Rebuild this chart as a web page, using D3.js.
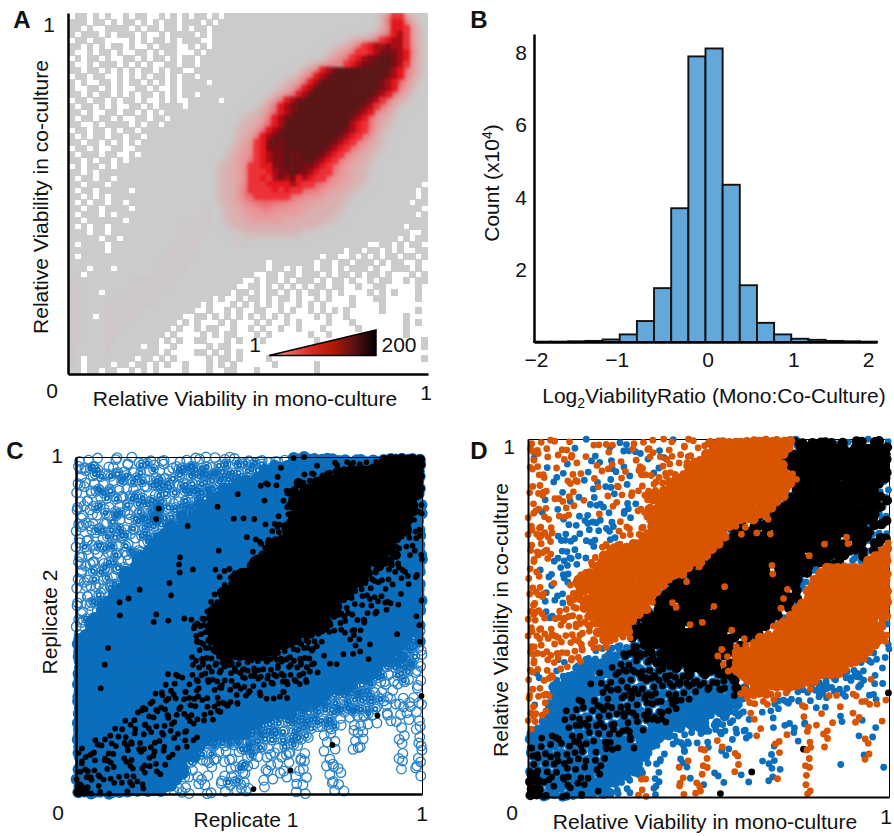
<!DOCTYPE html>
<html>
<head>
<meta charset="utf-8">
<script src="https://cdnjs.cloudflare.com/ajax/libs/d3/7.8.5/d3.min.js"></script>
<style>
  body { margin: 0; background: #fff; }
  svg { display: block; }
  text { font-family: "Liberation Sans", Arial, sans-serif; fill: #111; }
  .domain { fill: none; stroke: #000; }
</style>
</head>
<body>
<div id="chart"></div>
<script>
// panel A: density grid, top row is y=1. white ".", gray 0, faint a, then 1-8 up the colour bar
var heatRows = [
"  .00.0.0..0 .00..0.0.0 .00.0.0000 0000000000 0000000000 0013442100",
"  000.00.0.0 0.0.0.00.0 00.0.00000 0000000000 0000000000 0013553100",
"  00.0..0000 .0.00.00.0 .00.000000 0000000000 0000000000 0012554210",
"  0.000.0.00 0.0..0.000 0.0.000000 0000000000 0000000000 0123564210",
"  .00.00.... 0.0.00.0.0 00..000000 0000000000 0000000111 2345664210",
"  00.0.0.00. 0..0.000.. 0.0.000000 0000000000 0000011234 5667664210",
"  0..0.00.0. .00.0.00.. .0.0000000 0000000000 0000122344 5677765310",
"  .0.00.0..0 0.0.00.0.0 0.00000000 0000000000 0001223456 7788765210",
"  0..0.000.0 .0.0..00.0 0.00000000 0000000000 0112334567 7888764210",
"  00.00.0.0. 0.00.0.00. .000000000 0000000001 2356788888 8888653210",
"  .00.00..0. 0.0.00.0.0 0.00000000 0000000012 3567888888 8887653210",
"  0.0..00.0. 00.0.0.0.0 000.000000 0000001123 5688888888 8876532100",
"  0..00.0.0. .00.0..0.0 0000000000 0000011235 6888888888 8876532100",
"  00.0.00.0. 0.00.0.0.0 0.00000000 0000112356 8888888888 8765321000",
"  .00.00.0.0 0.0..0.0.. 00000.0000 0001235678 8888888888 7643211000",
"  0.00.0.0.. 00.0.0000. 0000000000 0012356788 8888888887 6432100000",
"  00.0..00.0 0.0.0.0000 0000000000 0112356788 8888888876 5322100000",
"  0.00.00.0. .00.00.000 0000000001 1123567888 8888888765 3211000000",
"  00..0.0000 .0.00.0000 0000000001 1123568888 8888888654 3211000000",
"  .00.00.0.0 0.00000000 0000000011 1235678888 8888887654 3210000000",
"  0.0.00.00. 00.0000000 0000000011 1356788888 8888876543 2100000000",
"  00.00.0.0. 0.00000000 0000000012 2457878888 8888765432 2110000000",
"  .00.0..00. .000000000 0000000112 2457778888 8887654322 1100000000",
"  0.000.00.. 0.00000000 0000000122 2456778788 8876543221 1000000000",
"  00.0.00.0. 0000000000 0000001122 3456778878 8765432211 1000000000",
"  .0.00.0.00 0000000000 0000011122 4455778787 7654322111 0000000000",
"  00.0.00000 0000000000 0000011122 4445677877 6544322111 0000000000",
"  0.00.00.00 0000000000 0000011122 4454676756 5443222111 0000000000",
"  00.000.000 0000000000 0000011122 4445555654 4332221110 000000000.",
"  0.00.00000 .000000000 0000011123 4444545443 3322211100 00000000.0",
"  00.0.0.000 0000000000 0000011123 3444444332 2221111000 00000000.0",
"  0.0.00.00. 0000000000 0000011122 3333333222 2211110000 0000000.00",
"  00.00.0000 .000000000 000a001112 2233222222 1111110000 000000000.",
"  0.000.0.00 0000000000 00aa001112 2222222221 1111100000 00000000.0",
"  00.000000. 0000000000 0aaa001111 2222221111 1111000000 0000000000",
"  0.0.00.000 000000000a aaa0000111 1111111111 1100000000 000000.000",
"  000.00.000 00000000aa aaa0000001 1111111110 0000000000 0000000..0",
"  00000.00.0 00000000aa aa00000aaa aaaaaaaa00 0000000000 00000.0.00",
"  0.0000.000 0000000aaa aa00000aaa 0000000000 0000000000 ..00.0.00.",
"  000000.000 0000000aaa a000000000 0000000000 000000.00. 00.0.0..00",
"  0.00000000 000000aaaa a000000000 0000000000 00.00..0.0 .0.00.00.0",
"  0000000000 00000aaaaa 0000000000 000.000000 0.00.00.00 0.0.00..0.",
"  000.000.00 0000aaaaaa 0000000000 000.00.0.0 0.00.0.000 .0..000.0.",
"  00.0000000 0000aaaaa0 0000000000 0..00.00.0 00.0.00.0. 00.0...0.0",
"  a000000000 aaaaaaaa00 000000000. .0.00.0.00 0.0.00.0.. 0.00..0.00",
"  aa00000000 aaaaaaa000 00000000.. 00.0.0.0.0 .00.00..0. .00.....0.",
"  aa000.000a aaaaaa0000 0000000.00 .0.00.0.0. 00.0.0.... 0.0.0...0.",
"  aa00000aaa aaaaa00000 0000.0..0. 00.0.00.0. .0.0...0.. .00.....0.",
"  aa0000aaaa aaaa000000 00.0...0.0 .0.0.0..0. 0.0....0.. ..0.......",
"  aa0000aaaa aa00000000 0..0..0.0. .00..0.0.. 0.0.0.0... ..0.....0.",
"  aa00.0aaaa a00000000. .00.0.0.0. 0.0.0.0... .0.0..0... ......0...",
"  aa0000aaaa 00000000.0 .0...0.0.. .0.0..0.0. ...0...0.. ......0.0.",
"  aa0000aaa0 0000000.0. .0.00..0.. 0.0..0..0. ..0.....0. ......0...",
"  aa0000aa00 000000.0.. ..0.0.00.. .0.0...... 0..0...... ......0...",
"  aa0000aa00 00000.0.0. .00...0.0. ..0....... .0........ .........0",
"  a00000a000 00.00..0.. ...0.00... .......... .......... .........0",
"  a00000a000 00000.0... .00.0.0.0. .......... .......... ..........",
"  a0.0000000 0.00.0.0.. ...0.00.0. ...0...... .......... .........0",
"  a0.0000.00 .00.0.0..0 ...0.0.0.. ....0..... .0........ ..........",
"  00.00.00.. 0.0.0....0 ...0..00.. .0........ .0........ .........."
];
var heatLevels = ["a", "0", "1", "2", "3", "4", "5", "6", "7", "8"];
var heatColors = ["#cec7c7", "#cbcbcb", "#dab0b0", "#e89a9c", "#ec6c72", "#ec3038", "#e4141e", "#a80e14", "#7a1014", "#5a1216"];
var legendColors = ["#f6a6a6", "#ee6060", "#d42a20", "#b01808", "#5a1014", "#000000"];

// panel B: histogram, 0.2 wide bins from -2 to 2, counts in x10^4
var binEdges = [-2, -1.8, -1.6, -1.4, -1.2, -1, -0.8, -0.6, -0.4, -0.2, 0, 0.2, 0.4, 0.6, 0.8, 1, 1.2, 1.4, 1.6, 1.8];
var binCounts = [0.01, 0.01, 0.02, 0.03, 0.07, 0.21, 0.58, 1.49, 3.7, 7.9, 8.12, 4.35, 1.57, 0.53, 0.21, 0.09, 0.06, 0.03, 0.02, 0.01];
var histXTicks = [-2, -1, 0, 1, 2];
var histYTicks = [2, 4, 6, 8];

// panel C: binned replicate points. o open, B filled blue, k blue+black dot, K black core, x black dot alone
var replicateRows = [
"  o.oo..oo.o .oo.oo..oo ooo.oooooo oooooookBk BBBBBBBkBB kBkKKKKKKK",
"  oooo.oo.oo oooo.ooooo oooooooooo ooooBkBBBB BkBBkkBkkk kkKKKKKKKK",
"  ooooo.ooo. ooooo.oooo oooooooooo ooBBBBBBBB kBBkkKKkKK KKKKKKKKKK",
"  o.oooooooo oo.ooooooo oooooooooo oBBBkBBBBk BkkKkKKKKK KKKKKKKKKK",
"  oo.oo.oooo ooooooo.oo ooooooooBB BBkkBBBBKk kKKKKKKKKK KKKKKKKKKK",
"  oooooo.ooo .ooooooooo oooooBBBBB BBkBkBkkkK KKKKKKKKKK KKKKKKKKKK",
"  o.oooooo.o oo.ooooooo oooooBBBkB BBBBBBkKkK KKKKKKKKKK KKKKKKKKKK",
"  ooo.oooooo oooooo.ooo oooBBBBBBB BBkBBkBKKK KKKKKKKKKK KKKKKKKKKk",
"  oo.ooo.ooo ooooo.oooo oBBBkBBBBB BBBBBBkKKK KKKKKKKKKK KKKKKKKKKk",
"  o.ooooooo. ooookooooo oBBBBBBBBB BBBBBBBkKK KKKKKKKKKK KKKKKKKKKk",
"  oooo.ooooo ooooooooBo BBBBBBBkBk BBBBBkkKKK KKKKKKKKKK KKKKKKKKkk",
"  oo.ooooo.o oookooooBB BBBBBBBBBB kBkBkBkKKK KKKKKKKKKK KKKKKKKKkB",
"  ooooo.oooo ooooooBoBk BBBBBBBBBB BBBBkkKKKK KKKKKKKKKK KKKKKKKkBk",
"  o.oooooooo .ooooBBBBB BBBBBBBBBB BBBBkkKKKK KKKKKKKKKK KKKKKKkKkk",
"  ooo.ooooo. ooooBBBBBB BBBBBBBBBk BkBkkKKKKK KKKKKKKKKK KKKKKKkkBk",
"  oooooooooo .ooBBBBBBB BBBBBBBBBB BkkKKKKKKK KKKKKKKKKK KKKKKkBkkB",
"  oo.oooo.oo ooBBBBBBBB BBBBkBBBBB kBkKKKKKKK KKKKKKKKKK KKKKKkkBkB",
"  oooo.ooooo oBBBBBBBkB BBBBBBBBBB BkKKKKKKKK KKKKKKKKKK KKKKkKBkBk",
"  o.oooooo.o BBBBBBBBBB BBBBBBBBBB kKKKKKKKKK KKKKKKKKKK KKKKKkBBBk",
"  ooo.oooooo BBBBBBBkBB BBBBBBkBBB KKKKKKKKKK KKKKKKKKKK KkKkkBkBBB",
"  oooooo.oBB BBBBBBBkBB kBBBkkBkKK KKKKKKKKKK KKKKKKKKKK KkkBkkkkBB",
"  o.ooooooBB BBBBBBBBBB BBBBkBkKKK KKKKKKKKKK KKKKKKKKKK kkBkkBkkkk",
"  oooo.oooBB BBBBBBkBBB BBBBBkkKKK KKKKKKKKKK KKKKKKKKKK kkkBkBBkBB",
"  oo.ooooBBB BkBBBBBBBB BBBBkkKKKK KKKKKKKKKK KKKKKKKKkk BkBkBBBBBB",
"  ooooo.BBBB BBBBBBkBBB BBBBkKKKKK KKKKKKKKKK KKKKKKKKBk kkkBBBkBBB",
"  o.oooBBkBk BBBBBBBBBB BBBkkKKKKK KKKKKKKKKK KKKKKKkkBB kBkkkBBBBk",
"  ooooBBBBBB BBBBBBBBBB BBBkKKKKKK KKKKKKKKKK KKKKKKkBkk BkBBkkBBBB",
"  oo.oBBBBBB BBBBBBBBBB BBkKKKKKKK KKKKKKKKKK KKKKKkkkBB kkkkBBBBBB",
"  oooBBBBkBB BBBkBBBBkB kkkKKKKKKK KKKKKKKKKK KKKKkkkkBk BBBBBBBBBk",
"  ooBBBBBBBB BBBkBBkBBB kkkKKKKKKK KKKKKKKKKK KKKKkkkBkk kBBBBBBBBk",
"  o.BBBBBBBB BBBBBBBBBB kkkKKKKKKK KKKKKKKKKK KKKkkkBkkk BBBBBBBBBo",
"  oBBBBBBBBB BBBBBBBBBB kkkKKKKKKK KKKKKKKKKK KkkkBBkBkB BBBBBkBBoB",
"  BBBBBBBBBB BBBBBBBBBB kkkKKKKKKK KKKKKKKKKk kkkBBBBkBk BBBBBBBBok",
"  BBBBBBBBBB BBBBBBBBBB BkkkKKKKKK KKKKKKKkkk kkBBBBBBkB kBBBBBBooo",
"  BBBBBkBBBB BBBBBBBBBB BkkkKKKKKK KKKKKkkkkk kkBBBBBBBk BBBBBBoooo",
"  BBBBBBBBBB BBBBBBBBBB kkkkkKKKKK KKKkkkkkkk kBBkBBkBkB kBBBBoBooo",
"  BBBBkBBBBB BBBBBBBBBB kkkBkkKkkk kkkkkkkkkk kkBBkkBBBB BBBBBooooo",
"  BBBBBBBBBB BBBBBBBBBB kkBkkkBkkk kkkkkkkkkB kBBBBBBBBB BBBooooooo",
"  BBBBBBBBBB BBBBBkBkBB kkkkkkkkkk kkBkkkkkkk kkBBBBBBBB BBoooooooo",
"  BBBBBBBBBB BBBBBBBkkB kkkkkkkBkk kkkkkBkkkk BBBBBBBBBB Booo.ooo.o",
"  BBBBBBBBBB BBBBBkBkBk BBkBkkBkkk kBkkkkkBkk BBBBBBBBoo oooo.oo..o",
"  BBBBkBBBBB BBBBkBkBkk kkBBkkkBkk kkBBBkkBBB BBBBBBoooo oo.oo....o",
"  BBBBBBBBBB BBBkkBkkBk BkkBkBBkBk BkBBkkkBBB BBBBoooooo ooo.o.o.ox",
"  BBBBBBBBBB BBkkBkkBkB kkBBkkkkkB BBBkBBBBBB BBoooooooo ooooo.oo.o",
"  BBBBBBBBBB BkkBkkBkkk kBkBkkkBBB BBBBBBBBBB oooooooooo oooo.oo.oo",
"  BBBBBBBBBB kkBkkkBkkB kBkkkkBBBB BBBBBBBBoo oooooooooo oo.oo.oo.o",
"  BBBBBBBBkB kBkkBkkBBk BkkkBBBBBB BBBBoooooo oooooo.oo. o.x.o..o.o",
"  BBBBBBBBBk BkkkBkkkBk kBBBBBBBBB BBoooooooo oooooo..oo o.o..o...o",
"  BBBBBBkBkB kBkkBBkBkk BBBBBBBBBB oooooooooo oo.oo...oo ......o..o",
"  BBBBBkBkkB kkBBkkBkBB kBBBBBBBBB oooooo.ooo o..oo...o. ......o..o",
"  BBBkBkkBkk BkBkkBBkkB kBBooooooo oooooooooo ...oo...oo ......o..o",
"  BkBkkBkBkk BkkBBkBkBk BBoooooooo oooo.oooo. ....x...oo ......o..o",
"  kBkkBkkBkB kkBkBkkBBB Boooo.o.oo oo.oo.oo.o ...oo...o. ......o..o",
"  BkkBkkBBkk BBkkBBkBBB Bo.oo.oo.o oo.o.oo.oo ....o..... ......o..o",
"  kkBkBkkBkk BkBkBkBBBo o.oo.o..oo o..oo.o..o ...oo..... ......o..o",
"  BkkkBkkBBk BkkBkBBBBo o..o..oooo ..oo..oxoo ....oo.... ......o.oo",
"  kBkkkBBkkk BkBBkBBBBo .oo..oo.oo .....oo.o. ....oo.... .........o",
"  kkkBkBkkBk kBBBBBBBo. .o...ooooo ..o.o....o ....o..... ..........",
"  KkkkBBkBBk BkBBBBBo.o .oo..oo.oo ..o.....oo ....oo.... ..........",
"  KKkBkkBBkB BkBBBoo.oo ..oo.o.ooo x.......oo ....o.o... .........."
];

// panel D: same binning with classes. b blue, o orange, k black, capitals for the dense parts, x lone black
var classRows = [
"  o.ooo.o..b .o.o.bbo.o o.oob.oo.o OOOOOOOOOO OOOOkKbKKK KbKbKKbKKb",
"  oo.o.oob.. o..bo.bo.o ob.o.oo.oo oOOOOOOOOO OOOOkKKKKK KKKbKKKKKK",
"  oo...o.o.o .b.o.b.bb. oo.o.ooo.O OOOOOOOOOO OOOkKKKKKK KKKKKKKKKK",
"  ob.o..oo.. bb.b.o.o.b o.bo..ooOO OOOOOOOOOO OOkKKKKKKK KKKKKKKKKK",
"  oo.bo.b.o. .o.obb..oo .boo.oOOOO OOOOOOOOOO OOOKKKKKKK KKKKKKKKKK",
"  o.o..b.oo. b.oob.o.oo b.ooooOOOO OOOOOOOOOO OOOoKKKKKK KKKKKKKKKK",
"  .oo.b..o.b .o.b.ob.o. ooooOOOOOO OOOOOOOOOO OOOOoKKKKK KKKKKKKKKK",
"  oo..b.ooo. .bb.o.b..o oooOOOOOOO OOOOOOOOOO OOOOkKKKKK KKKKKKKKKb",
"  o.oo.b.o.. bo.b.o.oo. ooOOOOOOOO OOOOOOOOOO OOOoKKKKKK KKKKKKKKbb",
"  .oo..oo.b. .b.obo.o.o OOOOOOOOOO OOOOOOOOOO OOOkKKKKKK KKKKKKKKKb",
"  o.b.oo.b.o b.b.o.bb.o oOOOOOOOOO OOOOOOOOOO OOkKKKKKKK KKKKKKKKbK",
"  .oo.b.oo.. .bb.o.b.oo OOOOOOOOOO OOOOOOOOOO OkKKKKKKKK KKKKKKKKKb",
"  oob..oo.bb .o.b.bb.oo OOOOOOOOOO OOOOOOOOOO kKKKKKKKKK KKKKKKKKbb",
"  o.oo.bo..b b.bb.o.b.o OOOOOOOOOO OOOOOOOOko KKKKKKKKKK KKKKKKKKbK",
"  oooo..b.bb .b.bb.o.oo OOOOOOOOOO OOOOoKoKKK KKKKKKKKKK KKKKKKbKKb",
"  ooo.o.b.b. bb.b.oo.oo OOOOOOOOOO OOOkKoKKoK oKKKKKKKKK KKKKKKKbbb",
"  oooo.bbb.. .b.bbo.ooO OOOOOOOOOO OOOkKKKKKK KKKKKKKKKK KKoKKKKbKK",
"  o.oo.b.b.b b.oooooOOO OOOOOOOOOO OOkKKKKKKK KKKKKKKKKo KKKoKKbKKo",
"  oooo.bbb.. b.ooOOOOOO OOOOOOOOOO OkKKKKKKKK KKKKKKKKKK KKKKKKbKoO",
"  .ooob.b.bb .oOOOOOOOO OOOOOOOOOO kKKKKKKKKK KKKKKKoKKK KKKbbKbOOO",
"  oo.ob.bb.. ooOOOOOOOO OOOOOOOOOk KKKKKKKKKK KKKKKKKKKK kKbbbbOOOO",
"  o.b..bb.b. oOOOOOOOOO OOOOOOOkoK KKKKKKKKKK oKKKKKKbbO OOOOOOOOOO",
"  .o.b.bb.oO OOOOOOOOOO OOOOOOkKKK KKKKKKKKKK oKKKKKKbOO OOOOOOOOOO",
"  oo.b..boOO OOOOOOOOOO OOOOkKoKKK KKKKKKKKKK KKKKKkbOOO OOOOOOOOOO",
"  o.obo.boOO OoOOOOOOOO OOOkKKKKKK KKoKKKKKKK KKKKKbbOOO OOOOOOOOOO",
"  ooob.b.oOO OOOOOOOOOO OOkKKKKKKK KKKKKKKKKK KKKoKbOOOO OOOOOOOOOO",
"  .oo.b.ooOo OOOOOOOOOO OkKKKKKKKK KKKKKKKKKK KKoKKbOOOO OOOOOOOOOO",
"  oob.bboooO OOOOOOOOOO oKKKoKKKKK KKKKKKKKKK KKKKbOOOOO OOOOOOOOOO",
"  oo.b.ooooO OOOOOOOOOO kKKKoKKKKK oKKKKKKKKK KKoKOOOOOO OOOOOOOOOO",
"  ooobbooooo OOOOOOOOOk KKKKKKKKKK KKKKKKKKKK KKbOOOOOOO OOOOOOOOoO",
"  ooo.ooo.oo oOOOOOOOkK KKKKKKKKoK KKKKKKKKKK KbOOOOOOOO OOOOOOOOob",
"  oooo.ooooo ooOOOOOkKK KKKKKKoKKK KKKKKKKKKK oOOOOOOOOO OOOOOOOOOb",
"  ooooo.oooo oOOOOOOKKK KKKKKKKKKK KKKoKKKKKo oOOOOOOOOO OOOOOOOOOo",
"  oo.ooo.oo. ooOOoooKkK KKKKKKKKKK KKKKKoKbOO OOOOOOOOOO OOOOOOOOOo",
"  ooo.oo.oo. oooobbbkkK KKKKKKKKKK KKKKoKoOOO OOOOOOOOOO OOOOOOOOob",
"  oo.ooooobo obbbbbkkkk KkKKKKKKKK KKoKoOOOOO OOOOOOOOOO OOOOOOOb.b",
"  o.oobo.oob bbbBBkkkkk kkKKKKKKKK KoKoOOOOOO OOOOOOOOOO OOOOOObb.b",
"  oo.oo.booB BBBBBkkBkk kKKkKKKKKK KKoKOOOOOO OOOOOOOOOO OOOOObbb..",
"  oo.oboobBB BBBkBkkkBk kkkkKkKKKK KKkoOOOOOO OOOOOOOOOO OOObbb..b.",
"  ob.oobbBBB BkBBkkBkkk kkkkkkKkkK kkKKoOOOOO OOOOOOOOOO OObbBb.b..",
"  oboobbBBBB BBkkBkBkkk kkkkkkkkkk kkkkKoOOOO OOOOOOOObb bbbb.b.ob.",
"  oo.bBBBBBB kBBkkBkkBk kBkkkkkkkk kkkBKkoOOO OOOOOoobBB bbb.bb.b..",
"  o.ooBBBBBB BBkkBkkkkk kkBkkkBkBB BBkBkoOOOO ooobbbbbBb bob.o.bb.x",
"  oo.oBBBBkB kkBkBkkkBk kBkkkkkBBB BBBBBBoo.o obbbbbb.bb o.b.o.ob.o",
"  oboBBBBBkB BkkkBkkBkk kkBkkBBBBB BBBBBboo.o .bbb.oo..b .o...oo.o.",
"  o.oBBBkBkk kBkkBkkkBk kkkkkBBBBB BBBbbb.ob. bb.....b.. ....o.....",
"  oooBBBBkkB kkBkkkkkBk kkkBBBBBBB bbBbbb.o.. b....o..o. .b...o....",
"  ooBBBBkBkk BkkkkBkBkk BkkBBBBBBB bBbbb.b... ..bb.bbo.. o.b.ob..o.",
"  oBBBBBkkBk BkkBkkkBBk BBBBBBbbBb bbb.bbb.o. b...b.o..o .......b..",
"  BBBBkBBkkB kkBkBkkBBB BBBBb.bbbb .bb.b.b.o. ...ob.o..o .....b.b..",
"  BBkBkkBkkB kBkkBBkkBB BBb.bbb.bb .o.b..b... .o..b.o..o ......o...",
"  kBkkBkkBkk BBkkkBBkBB Bb..bbb.ob ..ob...... bo...xo..o ......o...",
"  BkkBkBkkBk BkBBkBBBBB b.b..bb..o ..b.o..... bo....o... .....bo...",
"  kkBkkBkBkk BkkBBBBBBB .bb..bo..o ..b.o...b. b.....o... ......o...",
"  kBkBkBkBBk BBkBBBBBBb .b...bb..o ....o..... b.....o... .b........",
"  kkBkkBkkBB BkBBBBBBBb .b...o...o .b..o..x.. bb....o... .........b",
"  KkBkBkkBkk BkBBBBBbbo .b...ob.o. .b...b.... bo....o... ..........",
"  KKkkBkBBkk BBBBBbb.o. .b...o..ob ..b...b... b.....o... ..........",
"  KKkBkBkkBB BBBbb.b.o. bb...o..o. .......... ......o... ..........",
"  KKkkBkkBkB BkBBb.b.oo .b...o.oo. .x........ ......o... .........."
];

// where a mark sits inside its bin, fraction of a cell. fixed so the bins do not read as a lattice
var binSpread = [0.12, -0.38, 0.44, -0.07, 0.29, -0.46, 0.36, -0.22, 0.05, 0.48, -0.31, 0.18, -0.14, 0.41, -0.49, 0.25, -0.03];

var svg = d3.select("#chart").append("svg").attr("width", 894).attr("height", 836);
var defs = svg.append("defs");

// turn a row list into {x, y, c} cells in 0-1 units
function parseGrid(rows) {
  var cells = [];
  var grid = rows.map(function(row) { return row.replace(/ /g, ""); });
  function filled(r, i) { return r >= 0 && r < grid.length && grid[r].charAt(i) !== "." && grid[r].charAt(i) !== ""; }
  grid.forEach(function(chars, r) {
    chars.split("").forEach(function(c, i) {
      if (c === ".") return;
      // dense core bins stay closer to their centre so the solid parts have no holes
      var amount = /[BKO]/.test(c) ? 0.4 : 1;
      var dx = binSpread[(i * 5 + r * 3) % binSpread.length] * amount;
      var dy = binSpread[(i * 2 + r * 7 + 4) % binSpread.length] * amount;
      cells.push({
        x: (i + 0.5 + dx) / chars.length,
        y: 1 - (r + 0.5 + dy) / grid.length,
        i: i, r: r, c: c,
        crowded: filled(r - 1, i) && filled(r + 1, i) && filled(r, i - 1) && filled(r, i + 1)
      });
    });
  });
  return cells;
}

function label(x, y, txt, size, anchor) {
  return svg.append("text")
      .attr("x", x).attr("y", y)
      .attr("text-anchor", anchor || "middle")
      .attr("font-size", size)
      .text(txt);
}

function vLabel(x, y, txt, size) {
  return svg.append("text")
      .attr("text-anchor", "middle")
      .attr("font-size", size)
      .attr("transform", "translate(" + x + "," + y + ") rotate(-90)")
      .text(txt);
}

function panelLetter(x, y, txt) {
  label(x, y, txt, 24).attr("font-weight", "bold");
}

// thick left/bottom axis lines, no ticks; end numbers are placed by hand like the figure
function frameAxes(x, y, width) {
  svg.append("g").attr("transform", "translate(0," + y.range()[0] + ")")
      .call(d3.axisBottom(x).tickValues([]).tickSizeOuter(0))
      .select(".domain").attr("stroke-width", width);
  svg.append("g").attr("transform", "translate(" + x.range()[0] + ",0)")
      .call(d3.axisLeft(y).tickValues([]).tickSizeOuter(0))
      .select(".domain").attr("stroke-width", width);
}

function thinFrame(x, y) {
  svg.append("g").attr("transform", "translate(0," + y.range()[1] + ")")
      .call(d3.axisTop(x).tickValues([]).tickSizeOuter(0))
      .select(".domain").attr("stroke-width", 1);
  svg.append("g").attr("transform", "translate(" + x.range()[1] + ",0)")
      .call(d3.axisRight(y).tickValues([]).tickSizeOuter(0))
      .select(".domain").attr("stroke-width", 1);
}

//////// panel A
(function() {
  var x = d3.scaleBand().domain(d3.range(60)).range([69, 427]);
  var y = d3.scaleBand().domain(d3.range(heatRows.length)).range([13, 373]);
  var color = d3.scaleOrdinal().domain(heatLevels).range(heatColors);
  var cells = parseGrid(heatRows);

  // soften the steps between colour levels, the gray and white speckle stays crisp
  [["softWide", 4.5], ["softNarrow", 1.6]].forEach(function(f) {
    defs.append("filter").attr("id", f[0])
        .attr("filterUnits", "userSpaceOnUse")
        .attr("x", 69).attr("y", 13).attr("width", 358).attr("height", 360)
      .append("feGaussianBlur").attr("stdDeviation", f[1]);
  });

  function drawCells(g, data) {
    g.selectAll("rect")
      .data(data)
      .enter().append("rect")
        .attr("x", function(d) { return x(d.i); })
        .attr("y", function(d) { return y(d.r); })
        .attr("width", x.bandwidth() + 0.5)
        .attr("height", y.bandwidth() + 0.5)
        .attr("fill", function(d) { return color(d.c); });
  }

  drawCells(svg.append("g").attr("shape-rendering", "crispEdges"),
    cells.map(function(d) { return { i: d.i, r: d.r, c: d.c === "a" ? "a" : "0" }; }));
  drawCells(svg.append("g").attr("filter", "url(#softWide)"),
    cells.filter(function(d) { return "123456".indexOf(d.c) >= 0; }));
  drawCells(svg.append("g").attr("filter", "url(#softNarrow)"),
    cells.filter(function(d) { return "45678".indexOf(d.c) >= 0; }));

  var ax = d3.scaleLinear().domain([0, 1]).range([68, 428]);
  var ay = d3.scaleLinear().domain([0, 1]).range([374, 13]);
  frameAxes(ax, ay, 2.5);

  // legend wedge
  var grad = defs.append("linearGradient").attr("id", "wedge");
  legendColors.forEach(function(c, i) {
    grad.append("stop").attr("offset", i / (legendColors.length - 1)).attr("stop-color", c);
  });
  svg.append("path")
      .attr("d", d3.line()([[269, 355.5], [376, 330], [376, 355.5]]) + "Z")
      .attr("fill", "url(#wedge)")
      .attr("stroke", "#000")
      .attr("stroke-width", 1.5);
  label(255, 352, "1", 21);
  label(399, 352, "200", 21);

  panelLetter(22, 28, "A");
  label(49, 32, "1", 21);
  label(52, 398, "0", 21);
  label(426, 400, "1", 21);
  label(245, 406, "Relative Viability in mono-culture", 21);
  vLabel(48, 197, "Relative Viability in co-culture", 21);
})();

//////// panel B
(function() {
  var x = d3.scaleLinear().domain([-2, 2]).range([534, 877]);
  var y = d3.scaleLinear().domain([0, 8.52]).range([342, 34]);

  svg.append("g").selectAll("rect")
    .data(binCounts)
    .enter().append("rect")
      .attr("x", function(d, i) { return x(binEdges[i]); })
      .attr("y", function(d) { return y(d); })
      .attr("width", x(0.2) - x(0))
      .attr("height", function(d) { return y(0) - y(d); })
      .attr("fill", "#62a8da")
      .attr("stroke", "#111")
      .attr("stroke-width", 1.9);

  var xAxis = svg.append("g").attr("transform", "translate(0,342)")
      .call(d3.axisBottom(x).tickValues(histXTicks).tickSize(0).tickPadding(10).tickFormat(d3.format("d")));
  xAxis.select(".domain").attr("stroke-width", 2.5);
  xAxis.selectAll("text").attr("font-size", 21)
      .attr("dx", function(d) { return d === 2 ? -9 : (d === -1 ? -3 : 2); });

  var yAxis = svg.append("g").attr("transform", "translate(534,0)")
      .call(d3.axisLeft(y).tickValues(histYTicks).tickSize(0).tickPadding(7).tickFormat(d3.format("d")));
  yAxis.select(".domain").attr("stroke-width", 2.5);
  yAxis.selectAll("text").attr("font-size", 21);

  panelLetter(479, 28, "B");

  var yl = vLabel(499, 183, "Count (x10", 21);
  yl.append("tspan").attr("dy", -7).attr("font-size", 14).text("4");
  yl.append("tspan").attr("dy", 7).text(")");

  var xl = label(714, 403, "Log", 21);
  xl.append("tspan").attr("dy", 5).attr("font-size", 14).text("2");
  xl.append("tspan").attr("dy", -5).text("ViabilityRatio (Mono:Co-Culture)");
})();

//////// panel C
(function() {
  var x = d3.scaleLinear().domain([0, 1]).range([76, 422]);
  var y = d3.scaleLinear().domain([0, 1]).range([794, 457]);
  var cells = parseGrid(replicateRows);
  var blue = "#0a6ebd";
  var open = cells.filter(function(d) { return d.c === "o"; });

  svg.append("g").selectAll("circle")
    .data(open)
    .enter().append("circle")
      .attr("cx", function(d) { return x(d.x); })
      .attr("cy", function(d) { return y(d.y); })
      .attr("r", 4.8)
      .attr("fill", "none")
      .attr("stroke", "#2a82c8")
      .attr("stroke-width", 1.3);

  // crowded bins hold many overlapping rings, so their middle closes up too
  svg.append("g").selectAll("circle")
    .data(open.filter(function(d) { return d.crowded; }))
    .enter().append("circle")
      .attr("cx", function(d) { return x(d.x); })
      .attr("cy", function(d) { return y(d.y); })
      .attr("r", 2.1)
      .attr("fill", "none")
      .attr("stroke", blue)
      .attr("stroke-width", 1.8);

  svg.append("g").selectAll("circle")
    .data(cells.filter(function(d) { return "BkK".indexOf(d.c) >= 0; }))
    .enter().append("circle")
      .attr("cx", function(d) { return x(d.x); })
      .attr("cy", function(d) { return y(d.y); })
      .attr("r", 6)
      .attr("fill", blue);

  thinFrame(x, y);

  svg.append("g").selectAll("circle")
    .data(cells.filter(function(d) { return "kKx".indexOf(d.c) >= 0; }))
    .enter().append("circle")
      .attr("cx", function(d) { return x(d.x); })
      .attr("cy", function(d) { return y(d.y); })
      .attr("r", function(d) { return d.c === "K" ? 5 : 2.9; })
      .attr("fill", "#000");

  frameAxes(x, y, 2.5);

  panelLetter(15, 459, "C");
  label(57, 463, "1", 21);
  label(58, 820, "0", 21);
  label(422, 821, "1", 21);
  label(246, 827, "Replicate 1", 21);
  vLabel(57, 622, "Replicate 2", 21);
})();

//////// panel D
(function() {
  var x = d3.scaleLinear().domain([0, 1]).range([528, 889]);
  var y = d3.scaleLinear().domain([0, 1]).range([797, 439]);
  var cells = parseGrid(classRows);
  var layers = [
    { keys: "bBk", fill: "#0a6ebd", under: true },
    { keys: "kKx", fill: "#000" },
    { keys: "oO", fill: "#d95400" }
  ];

  thinFrame(x, y);

  layers.forEach(function(layer) {
    svg.append("g").selectAll("circle")
      .data(cells.filter(function(d) { return layer.keys.indexOf(d.c) >= 0; }))
      .enter().append("circle")
        .attr("cx", function(d) { return x(d.x); })
        .attr("cy", function(d) { return y(d.y); })
        .attr("r", function(d) {
          if (layer.under && d.c === "k") return 5;
          return "BKO".indexOf(d.c) >= 0 ? 5 : 3.4;
        })
        .attr("fill", layer.fill);
  });

  frameAxes(x, y, 2);

  panelLetter(479, 459, "D");
  label(509, 454, "1", 21);
  label(512, 820, "0", 21);
  label(886, 824, "1", 21);
  label(705, 829, "Relative Viability in mono-culture", 21);
  vLabel(508, 620, "Relative Viability in co-culture", 21);
})();
</script>
</body>
</html>
